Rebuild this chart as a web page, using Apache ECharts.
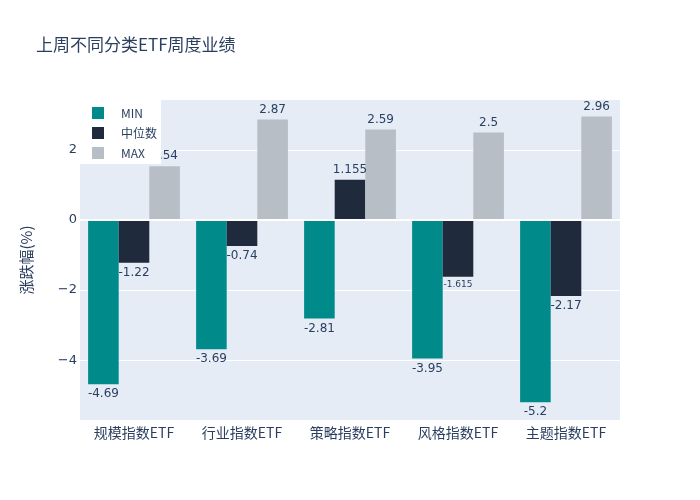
<!DOCTYPE html>
<html><head><meta charset="utf-8">
<script src="https://cdn.jsdelivr.net/npm/echarts@6/dist/echarts.min.js"></script>
<style>html,body{margin:0;padding:0;background:#fff}#c{width:700px;height:500px}</style>
</head><body><div id="c"></div>
<script>
const categories = ['规模指数ETF','行业指数ETF','策略指数ETF','风格指数ETF','主题指数ETF'];
const minValues = [-4.69, -3.69, -2.81, -3.95, -5.2];
const medianValues = [-1.22, -0.74, 1.155, -1.615, -2.17];
const maxValues = [1.54, 2.87, 2.59, 2.5, 2.96];
const yTicks = [-4, -2, 0, 2];

const FONT = '"DejaVu Sans", "Noto Sans CJK SC", sans-serif';
const CJK = '"Noto Sans CJK SC", sans-serif';
const TXT = '#2a3f5f';
function items(vals) {
  return vals.map(v => {
    const small = String(Math.abs(v)).length > 4;
    return {
      value: v,
      label: {position: v >= 0 ? 'top' : 'bottom', fontSize: (small && v < 0) ? 9 : 12}
    };
  });
}
const chart = echarts.init(document.getElementById('c'));
const labelBase = {show: true, color: TXT, fontFamily: FONT, fontSize: 12, distance: 4};
chart.setOption({
  animation: false,
  title: {text: '上周不同分类ETF周度业绩', left: 31, top: 31,
    textStyle: {color: TXT, fontSize: 17, fontWeight: 'normal', fontFamily: CJK}},
  legend: {
    data: ['MIN','中位数','MAX'], orient: 'vertical', left: 80, top: 100,
    backgroundColor: '#ffffff', padding: [7, 4, 5, 12], itemGap: 8,
    itemWidth: 12, itemHeight: 12, icon: 'rect',
    textStyle: {color: TXT, fontSize: 12, fontFamily: CJK, padding: [0,0,0,12]}, z: 10
  },
  grid: {left: 80, right: 80, top: 100, bottom: 80, show: true, backgroundColor: '#E5ECF6', borderWidth: 0},
  xAxis: {
    type: 'category', data: categories,
    axisLine: {show: false}, axisTick: {show: false},
    axisLabel: {color: TXT, fontSize: 14, fontFamily: CJK, margin: 6}
  },
  yAxis: {
    type: 'value', min: -5.71, max: 3.43,
    name: '涨跌幅(%)', nameLocation: 'middle', nameGap: 46, nameRotate: 90,
    nameTextStyle: {color: TXT, fontSize: 15, fontFamily: CJK},
    axisLine: {show: false},
    axisTick: {show: false, customValues: yTicks},
    axisLabel: {customValues: yTicks, color: TXT, fontSize: 13, fontFamily: FONT, margin: 3,
      formatter: v => (v < 0 ? '\u2212' + Math.abs(v) : String(v))},
    splitLine: {show: true, lineStyle: {color: '#ffffff', width: 1}}
  },
  series: [
    {name: 'MIN', type: 'bar', data: items(minValues), barGap: '0%', barCategoryGap: '15%',
      itemStyle: {color: '#008B8A'}, label: labelBase},
    {name: '中位数', type: 'bar', data: items(medianValues),
      itemStyle: {color: '#1F2A3C'}, label: labelBase},
    {name: 'MAX', type: 'bar', data: items(maxValues),
      itemStyle: {color: '#B7BEC6'}, label: labelBase,
      markLine: {silent: true, symbol: 'none', label: {show: false},
        lineStyle: {color: '#ffffff', width: 2, type: 'solid'}, data: [{yAxis: 0}]}}
  ]
});
</script></body></html>
